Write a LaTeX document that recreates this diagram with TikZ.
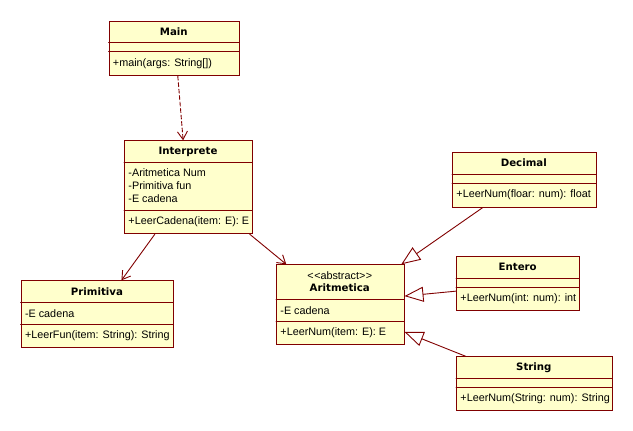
\documentclass[tikz,border=0pt]{standalone}
\usepackage{fontspec}
\setmainfont{Liberation Sans}
\newfontfamily\titlefont{DejaVu Sans}
\usetikzlibrary{arrows.meta}
\definecolor{umlfill}{RGB}{255,255,204}
\definecolor{umlline}{RGB}{128,0,0}
\begin{document}
\begin{tikzpicture}[x=1pt,y=-1pt,line width=.9pt,line cap=round,
  cls/.style={draw=umlline,fill=umlfill,anchor=north west,inner sep=0pt},
  ttl/.style={font=\titlefont\bfseries\fontsize{10.2}{12}\selectfont,inner sep=0pt},
  txt/.style={font=\fontsize{10.8}{13}\selectfont,anchor=west,align=left,inner sep=0pt},
  sep/.style={draw=umlline},
  dep/.style={draw=umlline,dash pattern=on 4pt off 2.5pt,-{Straight Barb[length=8pt,width=10pt]}},
  assoc/.style={draw=umlline,-{Straight Barb[length=8pt,width=10pt]}},
  gen/.style={draw=umlline,-{Triangle[open,length=19pt,width=15pt]}}]
\useasboundingbox (0,0) rectangle (633,431);
% classes
\node[cls,minimum width=130.5pt,minimum height=54.6pt] (main) at (108.5,20.7) {};
\draw[sep] (108.5,42.3)--(239,42.3); \draw[sep] (108.5,51.7)--(239,51.7);
\node[ttl] (main-t) at (173.75,31.5) {Main};
\node[txt] (main-m) at (112.5,63.5) {+main(args: String[])};

\node[cls,minimum width=128pt,minimum height=93pt] (interp) at (124,140.3) {};
\draw[sep] (124,162.7)--(252,162.7); \draw[sep] (124,210.3)--(252,210.3);
\node[ttl] (interp-t) at (188,151.5) {Interprete};
\node[txt] (interp-a) at (128,186) {-Aritmetica Num\\-Primitiva fun\\-E cadena};
\node[txt] (interp-m) at (128,221.8) {+LeerCadena(item: E): E};

\node[cls,minimum width=152.8pt,minimum height=67pt] (prim) at (20.6,280.3) {};
\draw[sep] (20.6,302.3)--(173.4,302.3); \draw[sep] (20.6,324.3)--(173.4,324.3);
\node[ttl] (prim-t) at (97,291.3) {Primitiva};
\node[txt] (prim-a) at (24.6,313.3) {-E cadena};
\node[txt] (prim-m) at (24.6,335.8) {+LeerFun(item: String): String};

\node[cls,minimum width=127.6pt,minimum height=79.7pt] (arit) at (276,264.3) {};
\draw[sep] (276,299.3)--(403.6,299.3); \draw[sep] (276,321.3)--(403.6,321.3);
\node[txt,anchor=center] (arit-s) at (339.8,275.3) {{<}\kern.6pt{<}abstract{>}\kern.6pt{>}};
\node[ttl] (arit-t) at (339.8,288) {Aritmetica};
\node[txt] (arit-a) at (280,310.3) {-E cadena};
\node[txt] (arit-m) at (280,332.7) {+LeerNum(item: E): E};

\node[cls,minimum width=143.6pt,minimum height=54.4pt] (dec) at (452,152.3) {};
\draw[sep] (452,174)--(595.6,174); \draw[sep] (452,183.3)--(595.6,183.3);
\node[ttl] (dec-t) at (523.8,163) {Decimal};
\node[txt] (dec-m) at (456,195) {+LeerNum(floar: num): float};

\node[cls,minimum width=123.4pt,minimum height=54pt] (ent) at (456,256.3) {};
\draw[sep] (456,278)--(579.4,278); \draw[sep] (456,287.3)--(579.4,287.3);
\node[ttl] (ent-t) at (517.7,267) {Entero};
\node[txt] (ent-m) at (460,298.8) {+LeerNum(int: num): int};

\node[cls,minimum width=155.7pt,minimum height=54pt] (str) at (456,356.3) {};
\draw[sep] (456,378.3)--(611.7,378.3); \draw[sep] (456,387.7)--(611.7,387.7);
\node[ttl] (str-t) at (533.85,367.3) {String};
\node[txt] (str-m) at (460,399) {+LeerNum(String: num): String};
% relations
\draw[dep] ([xshift=3.6pt]main.south) -- ([xshift=-5.3pt]interp.north);
\draw[assoc] ([xshift=-33.6pt]interp.south) -- ([xshift=24pt]prim.north);
\draw[assoc] ([xshift=-3.2pt]interp.south east) -- ([xshift=10.3pt]arit.north west);
\draw[gen] ([xshift=30.7pt]dec.south west) -- ([xshift=-3.2pt]arit.north east);
\draw[gen] ([yshift=-7.4pt]ent.west) -- ([yshift=8.5pt]arit.east);
\draw[gen] ([xshift=9.7pt]str.north west) -- ([yshift=13pt]arit.south east);
\end{tikzpicture}
\end{document}
